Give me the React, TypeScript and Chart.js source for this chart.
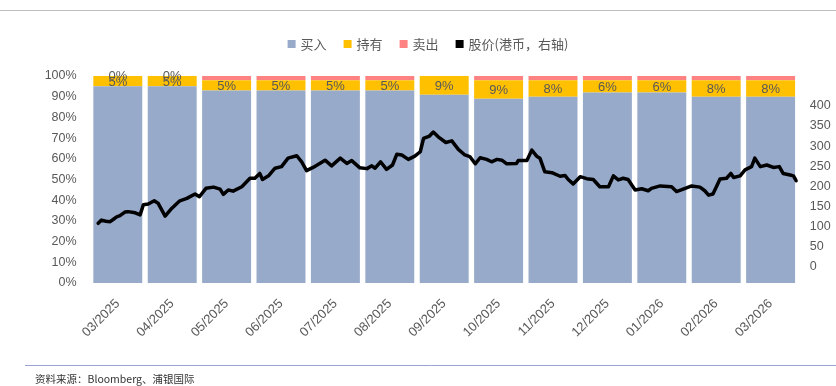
import React, { useEffect, useRef } from 'react';
import { Chart, registerables } from 'chart.js';

Chart.register(...registerables);

// ---------- data ----------
const categories = ['03/2025', '04/2025', '05/2025', '06/2025', '07/2025', '08/2025', '09/2025', '10/2025', '11/2025', '12/2025', '01/2026', '02/2026', '03/2026'];
const buyPct = [95, 95, 93, 93, 93, 93, 91, 89, 90, 92, 92, 90, 90];
const holdPct = [5, 5, 5, 5, 5, 5, 9, 9, 8, 6, 6, 8, 8];
const sellPct = [0, 0, 2, 2, 2, 2, 0, 2, 2, 2, 2, 2, 2];
const holdLabels = holdPct.map((v) => v + '%');
const sellLabels = ['0%', '0%', '', '', '', '', '', '', '', '', '', '', ''];

// stock price: time in months elapsed since 2025-03-01, price in HKD
const priceT = [
  0.14, 0.20, 0.28, 0.36, 0.42, 0.48, 0.54, 0.63, 0.69, 0.82,
  0.91, 0.97, 1.06, 1.17, 1.24, 1.37, 1.49, 1.64, 1.77, 1.92,
  2.00, 2.12, 2.26, 2.38, 2.44, 2.53, 2.62, 2.78, 2.93, 3.02,
  3.11, 3.16, 3.27, 3.39, 3.51, 3.63, 3.79, 3.88, 3.97, 4.09,
  4.31, 4.43, 4.59, 4.71, 4.80, 4.95, 5.08, 5.17, 5.23, 5.33,
  5.44, 5.55, 5.63, 5.72, 5.84, 5.96, 6.06, 6.12, 6.23, 6.30,
  6.39, 6.53, 6.64, 6.76, 6.88, 6.97, 7.07, 7.16, 7.28, 7.37,
  7.47, 7.56, 7.65, 7.83, 7.86, 8.02, 8.11, 8.20, 8.26, 8.35,
  8.48, 8.63, 8.72, 8.78, 8.87, 9.00, 9.12, 9.24, 9.36, 9.52,
  9.61, 9.70, 9.79, 9.88, 10.01, 10.13, 10.25, 10.31, 10.47, 10.68,
  10.77, 10.93, 11.05, 11.20, 11.29, 11.36, 11.44, 11.51, 11.57, 11.69,
  11.77, 11.82, 11.94, 12.03, 12.15, 12.21, 12.31, 12.43, 12.55, 12.66,
  12.73, 12.86, 12.92, 12.97,
];
const priceV = [
  108, 116, 113, 112, 118, 124, 127, 136, 137, 134,
  129, 154, 156, 164, 158, 126, 145, 164, 170, 181,
  174, 195, 198, 193, 180, 191, 188, 199, 220, 220,
  232, 217, 226, 245, 249, 270, 276, 261, 239, 247,
  265, 251, 270, 257, 264, 246, 244, 251, 245, 261,
  242, 253, 280, 278, 267, 275, 286, 319, 325, 335,
  323, 309, 313, 292, 278, 274, 256, 271, 267, 261,
  267, 265, 256, 257, 264, 264, 290, 275, 270, 236,
  234, 225, 227, 217, 206, 224, 219, 217, 199, 199,
  226, 216, 220, 217, 191, 194, 189, 195, 201, 199,
  187, 195, 201, 198, 189, 178, 181, 201, 218, 220,
  232, 222, 226, 241, 249, 270, 249, 253, 247, 249,
  232, 228, 226, 214,
];
const priceTicks = [0, 50, 100, 150, 200, 250, 300, 350, 400];
const pctTicks = [0, 10, 20, 30, 40, 50, 60, 70, 80, 90, 100];

const seriesNames = ['买入', '持有', '卖出', '股价(港币，右轴)'];
const sourceText = '资料来源：Bloomberg、浦银国际';

// ---------- styles ----------
const BUY = '#98AACA';
const HOLD = '#FFC000';
const SELL = '#FF8282';
const LINE = '#000000';
const TEXT = '#595959';
const LATIN = '"Liberation Sans", Arial, sans-serif';
const CJK = '"Noto Sans CJK SC", "Noto Sans", sans-serif';

const W = 836;
const H = 386;

const decorPlugin = {
  id: 'decor',
  afterDatasetsDraw(chart: any) {
    const ctx = chart.ctx;
    ctx.save();
    ctx.font = `13px ${LATIN}`;
    ctx.fillStyle = TEXT;
    ctx.textAlign = 'center';
    ctx.textBaseline = 'middle';
    const holdMeta = chart.getDatasetMeta(2);
    holdMeta.data.forEach((el: any, i: number) => {
      const cy = (el.y + el.base) / 2;
      if (holdLabels[i]) ctx.fillText(holdLabels[i], el.x, cy + 1);
    });
    const sellMeta = chart.getDatasetMeta(3);
    sellMeta.data.forEach((el: any, i: number) => {
      const cy = (el.y + el.base) / 2;
      if (sellLabels[i]) ctx.fillText(sellLabels[i], el.x, cy);
    });
    ctx.restore();
  },
  afterDraw(chart: any) {
    const ctx = chart.ctx;
    ctx.save();
    // top rule
    ctx.strokeStyle = '#BFBFBF';
    ctx.lineWidth = 1;
    ctx.beginPath();
    ctx.moveTo(0, 10.5);
    ctx.lineTo(W, 10.5);
    ctx.stroke();
    // bottom rule
    ctx.strokeStyle = '#9AA3D3';
    ctx.beginPath();
    ctx.moveTo(25, 365.5);
    ctx.lineTo(W, 365.5);
    ctx.stroke();
    // source
    ctx.font = `10.5px ${CJK}`;
    ctx.fillStyle = '#333333';
    ctx.textAlign = 'left';
    ctx.textBaseline = 'middle';
    ctx.fillText(sourceText, 35, 379);

    // legend
    const colors = [BUY, HOLD, SELL, LINE];
    ctx.font = `13px ${CJK}`;
    const box = 8;
    const gapBT = 5;
    const gapItem = 17;
    const widths = seriesNames.map((n) => box + gapBT + ctx.measureText(n).width);
    const total = widths.reduce((a, b) => a + b, 0) + gapItem * (seriesNames.length - 1);
    let x = 428 - total / 2;
    const cy = 44;
    seriesNames.forEach((n, i) => {
      ctx.fillStyle = colors[i];
      ctx.fillRect(x, cy - box / 2, box, box);
      ctx.fillStyle = TEXT;
      ctx.textAlign = 'left';
      ctx.fillText(n, x + box + gapBT, cy);
      x += widths[i] + gapItem;
    });
    ctx.restore();
  },
};

export default function App() {
  const ref = useRef<HTMLCanvasElement | null>(null);

  useEffect(() => {
    const canvas = ref.current;
    if (!canvas) return;
    const barData = (arr: number[]) => arr.map((v, i) => ({ x: i, y: v }));
    const chart = new Chart(canvas, {
      type: 'bar',
      data: {
        datasets: [
          {
            type: 'line',
            label: seriesNames[3],
            data: priceT.map((t, i) => ({ x: t - 0.5, y: priceV[i] })),
            xAxisID: 'x',
            yAxisID: 'y2',
            borderColor: LINE,
            backgroundColor: LINE,
            borderWidth: 3.5,
            pointRadius: 0,
            tension: 0,
            borderJoinStyle: 'round',
            borderCapStyle: 'round',
            order: 0,
          } as any,
          { label: seriesNames[0], data: barData(buyPct), backgroundColor: BUY, xAxisID: 'x', yAxisID: 'y', order: 1 },
          { label: seriesNames[1], data: barData(holdPct), backgroundColor: HOLD, xAxisID: 'x', yAxisID: 'y', order: 1 },
          { label: seriesNames[2], data: barData(sellPct), backgroundColor: SELL, xAxisID: 'x', yAxisID: 'y', order: 1 },
        ],
      },
      options: {
        animation: false,
        responsive: false,
        maintainAspectRatio: false,
        layout: { padding: { top: 76, left: 0, right: 0, bottom: 0 } },
        datasets: { bar: { barPercentage: 0.9, categoryPercentage: 1, grouped: false } } as any,
        plugins: { legend: { display: false }, tooltip: { enabled: false } },
        scales: {
          x: {
            type: 'linear',
            stacked: true,
            min: -0.5,
            max: 12.5,
            offset: false,
            grid: { display: false, drawTicks: false },
            border: { display: false },
            afterBuildTicks: (s: any) => { s.ticks = categories.map((_, i) => ({ value: i })); },
            ticks: {
              color: TEXT,
              font: { size: 13, family: LATIN },
              minRotation: 45,
              maxRotation: 45,
              padding: 13,
              autoSkip: false,
              callback: (v: any) => categories[Math.round(Number(v))] ?? '',
            },
            afterFit: (s: any) => { s.height = H - 283; },
          },
          y: {
            position: 'left',
            stacked: true,
            min: 0,
            max: 100,
            grid: { display: false, drawTicks: false },
            border: { display: false },
            afterBuildTicks: (s: any) => { s.ticks = pctTicks.map((v) => ({ value: v })); },
            ticks: { color: TEXT, font: { size: 12.5, family: LATIN }, padding: 14, callback: (v: any) => v + '%' },
            afterFit: (s: any) => { s.width = 90.6; },
          },
          y2: {
            position: 'right',
            min: -40.5,
            max: 474.4,
            grid: { display: false, drawTicks: false },
            border: { display: false },
            afterBuildTicks: (s: any) => { s.ticks = priceTicks.map((v) => ({ value: v })); },
            ticks: { color: TEXT, font: { size: 12.5, family: LATIN }, padding: 12 },
            afterFit: (s: any) => { s.width = W - 797.8; },
          },
        } as any,
      },
      plugins: [decorPlugin],
    } as any);
    return () => chart.destroy();
  }, []);

  return (
    <div style={{ position: 'absolute', left: 0, top: 0, width: W, height: H, background: '#fff' }}>
      <canvas ref={ref} width={W} height={H} style={{ display: 'block', width: W, height: H }} />
    </div>
  );
}
